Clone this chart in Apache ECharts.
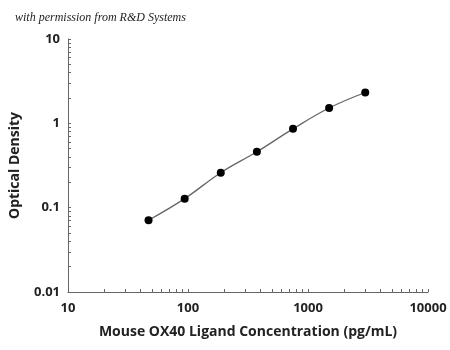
<!DOCTYPE html>
<html>
<head>
<meta charset="utf-8">
<script src="https://cdn.jsdelivr.net/npm/echarts@6/dist/echarts.min.js"></script>
<style>
  html, body { margin: 0; padding: 0; background: #fff; }
  #chart { width: 450px; height: 350px; }
</style>
</head>
<body>
<div id="chart"></div>
<script>
// standard curve
var concentrations = [46.9, 93.8, 187.5, 375, 750, 1500, 3000];
var opticalDensity = [0.071, 0.128, 0.26, 0.46, 0.86, 1.52, 2.32];

var xLabels = [10, 100, 1000, 10000];
var yLabels = [0.01, 0.1, 1, 10];

// log-spaced tick positions (1..9 per decade)
function logTicks(decades) {
  var out = [];
  decades.forEach(function (d, i) {
    if (i === decades.length - 1) { out.push(d); return; }
    for (var k = 1; k <= 9; k++) out.push(+(d * k).toPrecision(3));
  });
  return out;
}
var xTicks = logTicks(xLabels);
var yTicks = logTicks(yLabels);

var chart = echarts.init(document.getElementById('chart'));

var points = concentrations.map(function (c, i) { return [c, opticalDensity[i]]; });

var axisColor = '#666';
var labelFont = { color: '#222', fontFamily: 'Open Sans', fontWeight: 'bold', fontSize: 13 };
var nameFont = { color: '#222', fontFamily: 'Open Sans', fontWeight: 'bold', fontSize: 14 };

chart.setOption({
  animation: false,
  title: {
    text: 'with permission from R&D Systems',
    left: 10, top: 7,
    textStyle: { fontFamily: 'Liberation Serif', fontStyle: 'italic', fontWeight: 'normal', fontSize: 12, color: '#222' }
  },
  grid: { left: 67, right: 22, top: 39, bottom: 58 },
  xAxis: {
    type: 'log',
    logBase: 10,
    min: 10,
    max: 10000,
    name: 'Mouse OX40 Ligand Concentration (pg/mL)',
    nameLocation: 'middle',
    nameGap: 33,
    nameTextStyle: nameFont,
    axisLine: { lineStyle: { color: axisColor, width: 1 } },
    axisTick: { show: true, inside: true, length: 3, customValues: xTicks, lineStyle: { color: axisColor } },
    splitLine: { show: false },
    axisLabel: Object.assign({ margin: 10, customValues: xLabels, formatter: function (v) { return String(v); } }, labelFont)
  },
  yAxis: {
    type: 'log',
    logBase: 10,
    min: 0.01,
    max: 10,
    name: 'Optical Density',
    nameLocation: 'middle',
    nameGap: 46,
    nameTextStyle: nameFont,
    axisLine: { show: true, lineStyle: { color: axisColor, width: 1 } },
    axisTick: { show: true, inside: true, length: 3, customValues: yTicks, lineStyle: { color: axisColor } },
    splitLine: { show: false },
    axisLabel: Object.assign({ margin: 8, customValues: yLabels, formatter: function (v) { return String(v); } }, labelFont)
  },
  series: [{
    type: 'line',
    data: points,
    smooth: 0.4,
    symbol: 'circle',
    symbolSize: 8,
    itemStyle: { color: '#000' },
    lineStyle: { color: '#666', width: 1.3 }
  }]
});
</script>
</body>
</html>
